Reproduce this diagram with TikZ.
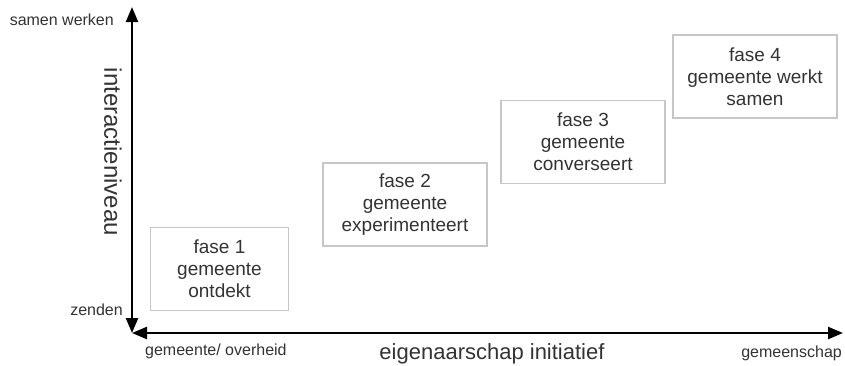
\documentclass[tikz,border=0pt]{standalone}
\usepackage{fontspec}
\setmainfont{Liberation Sans}
\usetikzlibrary{positioning,arrows.meta}

\begin{document}
\begin{tikzpicture}[x=1pt,y=-1pt,on grid,
    fase/.style={draw=black!22,line width=1.3pt,text=black!80,align=center,
      minimum width=164pt,minimum height=83pt,font=\fontsize{19}{22}\selectfont},
    lbl/.style={text=black!80,inner sep=0pt,font=\fontsize{16}{19}\selectfont},
    axis/.style={line width=2.4pt,
      {Triangle[length=15pt,width=12pt]}-{Triangle[length=15pt,width=12pt]}}]
   \useasboundingbox (0,0) rectangle (845,365);
   \coordinate (org) at (132,333);
   \coordinate (top) at (132,7);
   \coordinate (rgt) at (843,333);
   \draw[axis] (org) -- (top);
   \draw[axis] (org) -- (rgt);

   \node[fase,minimum width=138pt] (f1) at (219.5,269) {fase 1\\gemeente\\ontdekt};
   \node[fase] (f2) [above right=64.5pt and 185.5pt of f1] {fase 2\\gemeente\\experimenteert};
   \node[fase] (f3) [above right=62.5pt and 178pt of f2] {fase 3\\gemeente\\converseert};
   \node[fase] (f4) [above right=65.5pt and 172pt of f3] {fase 4\\gemeente werkt\\samen};

   \node[lbl,anchor=east] (hi) at (114,20) {samen werken};
   \node[lbl,anchor=east] (lo) at (123,310) {zenden};
   \node[lbl,rotate=-90,font=\fontsize{24}{28}\selectfont] (yl) at (113,152) {interactieniveau};
   \node[lbl,anchor=west] (le) at (145,351) {gemeente/ overheid};
   \node[lbl,font=\fontsize{22}{26}\selectfont] (xl) at (492,354) {eigenaarschap initiatief};
   \node[lbl,anchor=east] (re) at (842,353) {gemeenschap};
\end{tikzpicture}
\end{document}
